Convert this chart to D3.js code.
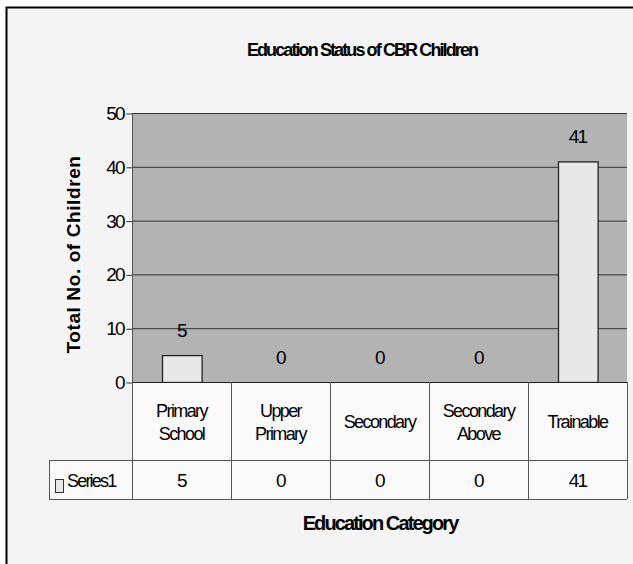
<!DOCTYPE html>
<html>
<head>
<meta charset="utf-8">
<script src="https://cdn.jsdelivr.net/npm/d3@7"></script>
<style>
  body { margin: 0; background: #fff; }
  text { font-family: "Liberation Sans", Arial, sans-serif; fill: #000; }
</style>
</head>
<body>
<div id="chart"></div>
<script>
var categories = ["Primary School", "Upper Primary", "Secondary", "Secondary Above", "Trainable"];
var catLines = [["Primary", "School"], ["Upper", "Primary"], ["Secondary"], ["Secondary", "Above"], ["Trainable"]];
var series1 = [5, 0, 0, 0, 41];
var yTicks = [0, 10, 20, 30, 40, 50];
var seriesName = "Series1";

var W = 633, H = 564;
var plotL = 132, plotR = 627, plotT = 113, base = 382;
var rowCat = 460, rowVal = 499;

var svg = d3.select("#chart").append("svg")
  .attr("width", W)
  .attr("height", H);

// chart area
svg.append("rect")
  .attr("x", 6.5).attr("y", 7.5)
  .attr("width", W + 10).attr("height", H + 10)
  .attr("fill", "#f4f4f4")
  .attr("stroke", "#000")
  .attr("stroke-width", 2);

var x = d3.scaleBand().domain(categories).range([plotL, plotR]);
var xBar = d3.scaleBand().domain(categories).range([plotL, plotR])
  .paddingInner(0.6).paddingOuter(0.3);
var y = d3.scaleLinear().domain([0, 50]).range([base, plotT]);

// plot area
svg.append("rect")
  .attr("x", plotL).attr("y", plotT)
  .attr("width", plotR - plotL).attr("height", base - plotT)
  .attr("fill", "#b3b3b3");

// gridlines
svg.append("g").selectAll("line")
  .data(yTicks.filter(function(d) { return d > 0; }))
  .enter().append("line")
  .attr("x1", plotL).attr("x2", plotR)
  .attr("y1", function(d) { return y(d) + 0.5; })
  .attr("y2", function(d) { return y(d) + 0.5; })
  .attr("stroke", "#333");

// y axis
var yAxis = d3.axisLeft(y).tickValues(yTicks).tickSize(6).tickPadding(3);
var gy = svg.append("g")
  .attr("transform", "translate(" + (plotL + 0.5) + ",0.5)")
  .call(yAxis);
gy.select(".domain").remove();
gy.selectAll("line").attr("stroke", "#333");
gy.selectAll("text")
  .attr("font-family", null)
  .attr("font-size", null)
  .style("font-size", "19px")
  .style("letter-spacing", "-2px")
  .attr("fill", "#000");

// bars
svg.append("g").selectAll("rect")
  .data(series1)
  .enter().append("rect")
  .attr("x", function(d, i) { return Math.round(xBar(categories[i])) + 0.5; })
  .attr("y", function(d) { return y(d) + 0.5; })
  .attr("width", xBar.bandwidth())
  .attr("height", function(d) { return y(0) - y(d); })
  .attr("fill", "#e8e8e8")
  .attr("stroke", "#222")
  .attr("stroke-width", 1.3);

// data labels
svg.append("g").selectAll("text")
  .data(series1)
  .enter().append("text")
  .attr("x", function(d, i) { return x(categories[i]) + x.bandwidth() / 2; })
  .attr("y", function(d) { return y(d) - 18; })
  .attr("text-anchor", "middle")
  .style("font-size", "19px")
  .style("letter-spacing", "-1.8px")
  .text(function(d) { return d; });

// data table
var tbl = svg.append("g");
tbl.append("rect")
  .attr("x", plotL + 0.5).attr("y", base + 0.5)
  .attr("width", plotR - plotL).attr("height", rowVal - base)
  .attr("fill", "#fafafa");
tbl.append("rect")
  .attr("x", 49.5).attr("y", rowCat + 0.5)
  .attr("width", plotL - 49).attr("height", rowVal - rowCat)
  .attr("fill", "#fafafa");

var lineColor = "#555";
tbl.append("line").attr("x1", plotL).attr("x2", plotR)
  .attr("y1", base + 0.5).attr("y2", base + 0.5).attr("stroke", "#222");
tbl.append("line").attr("x1", 49).attr("x2", plotR)
  .attr("y1", rowCat + 0.5).attr("y2", rowCat + 0.5).attr("stroke", lineColor);
tbl.append("line").attr("x1", 49).attr("x2", plotR)
  .attr("y1", rowVal + 0.5).attr("y2", rowVal + 0.5).attr("stroke", lineColor);
tbl.append("line").attr("x1", 49.5).attr("x2", 49.5)
  .attr("y1", rowCat).attr("y2", rowVal).attr("stroke", lineColor);
tbl.selectAll(".vl")
  .data(categories.concat(["end"]))
  .enter().append("line")
  .attr("class", "vl")
  .attr("x1", function(d, i) { return Math.round(plotL + i * x.step()) + 0.5; })
  .attr("x2", function(d, i) { return Math.round(plotL + i * x.step()) + 0.5; })
  .attr("y1", function(d, i) { return i === 0 ? plotT : base; })
  .attr("y2", rowVal)
  .attr("stroke", lineColor);

// category labels
tbl.selectAll(".cat")
  .data(catLines)
  .enter().append("text")
  .attr("class", "cat")
  .attr("text-anchor", "middle")
  .style("font-size", "18px")
  .style("letter-spacing", "-1.6px")
  .each(function(lines, i) {
    var cx = x(categories[i]) + x.bandwidth() / 2;
    var y0 = (base + rowCat) / 2 + 7 - (lines.length - 1) * 11;
    var t = d3.select(this);
    lines.forEach(function(l, j) {
      t.append("tspan").attr("x", cx).attr("y", y0 + j * 23).text(l);
    });
  });

// value row
tbl.selectAll(".val")
  .data(series1)
  .enter().append("text")
  .attr("class", "val")
  .attr("x", function(d, i) { return x(categories[i]) + x.bandwidth() / 2; })
  .attr("y", (rowCat + rowVal) / 2 + 7)
  .attr("text-anchor", "middle")
  .style("font-size", "19px")
  .style("letter-spacing", "-1.8px")
  .text(function(d) { return d; });

// legend key in table
tbl.append("rect")
  .attr("x", 55.5).attr("y", 479.5)
  .attr("width", 8).attr("height", 13)
  .attr("fill", "#e6e6e6").attr("stroke", "#333");
tbl.append("text")
  .attr("x", 67).attr("y", (rowCat + rowVal) / 2 + 7)
  .style("font-size", "18px")
  .style("letter-spacing", "-1.8px")
  .text(seriesName);

// titles
svg.append("text")
  .attr("x", 362).attr("y", 56)
  .attr("text-anchor", "middle")
  .style("font-size", "18px")
  .style("font-weight", "bold")
  .style("letter-spacing", "-1.9px")
  .text("Education Status of CBR Children");

svg.append("text")
  .attr("transform", "translate(80," + ((plotT + base) / 2 + 7) + ") rotate(-90)")
  .attr("text-anchor", "middle")
  .style("font-size", "19px")
  .style("font-weight", "bold")
  .style("letter-spacing", "0.6px")
  .text("Total No. of Children");

svg.append("text")
  .attr("x", 380).attr("y", 530)
  .attr("text-anchor", "middle")
  .style("font-size", "20px")
  .style("font-weight", "bold")
  .style("letter-spacing", "-1.9px")
  .text("Education Category");
</script>
</body>
</html>
